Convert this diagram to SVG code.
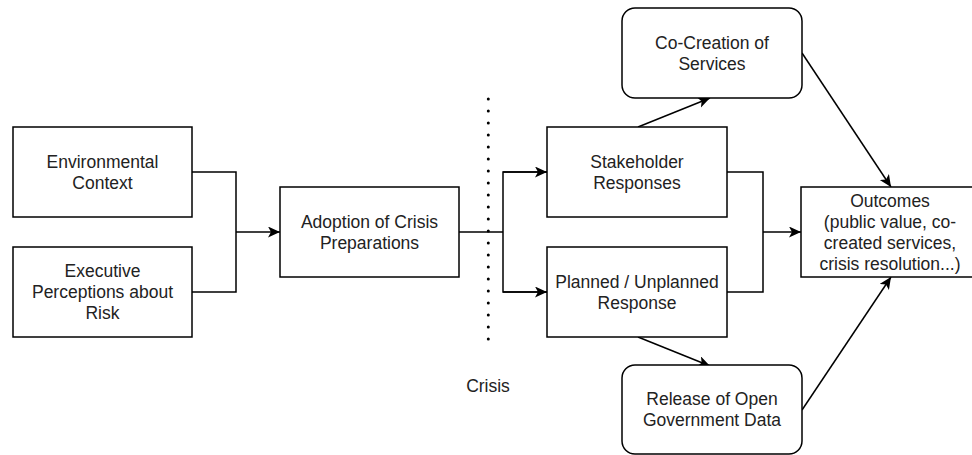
<svg xmlns="http://www.w3.org/2000/svg" width="972" height="455" viewBox="0 0 972 455">
<defs>
<marker id="arr" markerUnits="userSpaceOnUse" markerWidth="13" markerHeight="12" refX="12" refY="5.5" orient="auto">
<path d="M0,0 L12,5.5 L0,11 L3,5.5 z" fill="#000"/>
</marker>
<style>
.box{fill:#fff;stroke:#000;stroke-width:1.5}
.t{font-family:"Liberation Sans",Arial,sans-serif;font-size:17.5px;fill:#222;text-anchor:middle}
.c{fill:none;stroke:#000;stroke-width:1.5}
</style>
</defs>
<rect width="972" height="455" fill="#fff"/>
<g id="connectors">
<polyline class="c" points="192,172 236,172 236,292 192,292"/>
<line class="c" x1="236" y1="232" x2="280" y2="232" marker-end="url(#arr)"/>
<polyline class="c" points="459,232 503,232"/>
<polyline class="c" points="547,172 503,172 503,292 547,292"/>
<line class="c" x1="503" y1="172" x2="547" y2="172" marker-end="url(#arr)"/>
<line class="c" x1="503" y1="292" x2="547" y2="292" marker-end="url(#arr)"/>
<line class="c" x1="638" y1="127" x2="710" y2="98" marker-end="url(#arr)"/>
<line class="c" x1="638" y1="337" x2="710" y2="366" marker-end="url(#arr)"/>
<polyline class="c" points="727,172 763,172 763,292 727,292"/>
<line class="c" x1="763" y1="232" x2="801" y2="232" marker-end="url(#arr)"/>
<line class="c" x1="802" y1="53" x2="891" y2="187" marker-end="url(#arr)"/>
<line class="c" x1="802" y1="410" x2="891" y2="277" marker-end="url(#arr)"/>
<line x1="488.3" y1="99" x2="488.3" y2="351" stroke="#000" stroke-width="3" stroke-linecap="round" stroke-dasharray="0 12"/>
</g>
<g id="env">
<rect class="box" x="13" y="127" width="179" height="90"/>
<text class="t" x="102.5" y="168">Environmental</text>
<text class="t" x="102.5" y="189">Context</text>
</g>
<g id="exec">
<rect class="box" x="13" y="247" width="179" height="90"/>
<text class="t" x="102.5" y="277">Executive</text>
<text class="t" x="102.5" y="298">Perceptions about</text>
<text class="t" x="102.5" y="319">Risk</text>
</g>
<g id="adoption">
<rect class="box" x="280" y="187" width="179" height="90"/>
<text class="t" x="369.5" y="228">Adoption of Crisis</text>
<text class="t" x="369.5" y="249">Preparations</text>
</g>
<g id="crisis">
<text class="t" x="488" y="392">Crisis</text>
</g>
<g id="stakeholder">
<rect class="box" x="547" y="127" width="180" height="90"/>
<text class="t" x="637" y="168">Stakeholder</text>
<text class="t" x="637" y="189">Responses</text>
</g>
<g id="planned">
<rect class="box" x="547" y="247" width="180" height="90"/>
<text class="t" x="637" y="288">Planned / Unplanned</text>
<text class="t" x="637" y="309">Response</text>
</g>
<g id="cocreation">
<rect class="box" x="622" y="8" width="180" height="90" rx="13" ry="13"/>
<text class="t" x="712" y="49">Co-Creation of</text>
<text class="t" x="712" y="70">Services</text>
</g>
<g id="release">
<rect class="box" x="622" y="365" width="180" height="89" rx="13" ry="13"/>
<text class="t" x="712" y="405">Release of Open</text>
<text class="t" x="712" y="426">Government Data</text>
</g>
<g id="outcomes">
<rect class="box" x="801" y="187" width="180" height="90"/>
<text class="t" x="890" y="206.5">Outcomes</text>
<text class="t" x="890" y="227.5">(public value, co-</text>
<text class="t" x="890" y="248.5">created services,</text>
<text class="t" x="890" y="269.5">crisis resolution...)</text>
</g>
</svg>
